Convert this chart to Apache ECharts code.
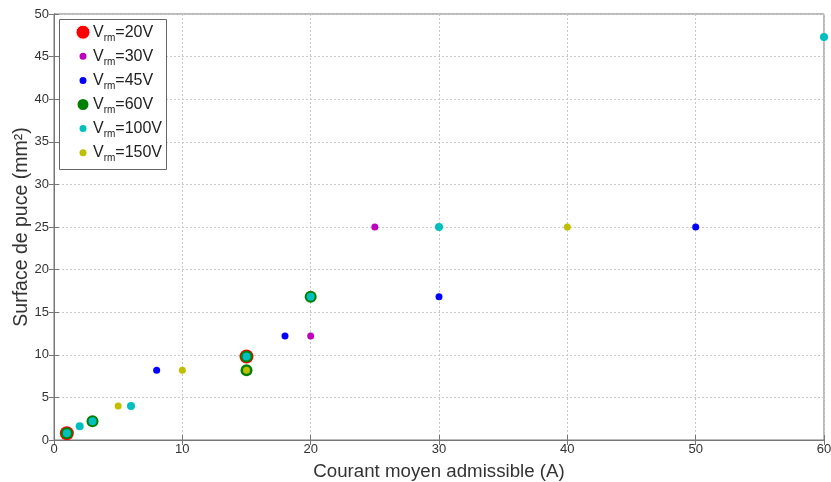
<!DOCTYPE html>
<html><head><meta charset="utf-8">
<script src="https://cdn.jsdelivr.net/npm/echarts@6/dist/echarts.min.js"></script>
<style>html,body{margin:0;padding:0;background:#fff}#c{width:831px;height:482px}</style>
</head><body><div id="c"></div>
<script>
const seriesNames = ['20V', '30V', '45V', '60V', '100V', '150V'];
const seriesColors = ['#ff0000', '#bf00bf', '#0000ff', '#007f00', '#00bfbf', '#bfbf00'];
const v20 = [[1, 0.8], [15, 9.8]];
const v30 = [[20, 12.2], [25, 25]];
const v45 = [[8, 8.2], [18, 12.2], [30, 16.8], [50, 25]];
const v60 = [[1, 0.8], [3, 2.2], [15, 8.2], [15, 9.8], [20, 16.8]];
const v100 = [[1, 0.8], [2, 1.6], [3, 2.2], [6, 4], [15, 9.8], [20, 16.8], [30, 25], [60, 47.3]];
const v150 = [[5, 4], [10, 8.2], [15, 8.2], [40, 25]];
const allData = [v20, v30, v45, v60, v100, v150];
const markerSizes = [14, 7, 7, 12, 8, 7];
// legend icon diameters (icon box is 14px; a white border shrinks the visible disc)
const legendSizes = [13, 7, 7, 11, 7, 7];

const tickStyle = { show: true, inside: true, length: 5, lineStyle: { color: '#777' } };
const lineStyle = { show: true, lineStyle: { color: '#777', width: 1 } };
const labelStyle = { fontFamily: 'Liberation Sans', fontSize: 13, color: '#333' };

const option = {
  animation: false,
  backgroundColor: '#fff',
  grid: { left: 54, right: 7, top: 14, bottom: 42, containLabel: false, outerBoundsMode: 'none', show: true, borderColor: '#777', borderWidth: 1 },
  legend: {
    data: seriesNames.map((n, i) => ({
      name: n,
      icon: 'circle',
      itemStyle: { color: seriesColors[i], borderColor: '#fff', borderWidth: 14 - legendSizes[i] }
    })),
    orient: 'vertical',
    left: 72.5,
    top: 21.2,
    padding: 0,
    itemWidth: 14,
    itemHeight: 14,
    itemGap: 2.1,
    selectedMode: false,
    formatter: name => '{a|V}{b|rm}{a|=' + name + '}',
    textStyle: {
      padding: [0, 0, 0, -2],
      rich: {
        a: { fontFamily: 'Liberation Sans', fontSize: 16, lineHeight: 18, color: '#222' },
        b: { fontFamily: 'Liberation Sans', fontSize: 10, lineHeight: 10, color: '#222', padding: [12, 0, 0, 0] }
      }
    }
  },
  xAxis: [{
    type: 'value', min: 0, max: 60, interval: 10,
    name: 'Courant moyen admissible (A)', nameLocation: 'middle', nameGap: 22, nameMoveOverlap: false,
    nameTextStyle: { fontFamily: 'Liberation Sans', fontSize: 18.7, color: '#333' },
    axisLine: lineStyle, axisTick: tickStyle,
    axisLabel: Object.assign({ margin: 3 }, labelStyle),
    splitLine: { show: true, lineStyle: { color: '#c8c8c8', type: [2, 2] } }
  }, {
    type: 'value', position: 'top', min: 0, max: 60, interval: 10,
    axisLine: lineStyle, axisTick: tickStyle, axisLabel: { show: false }, splitLine: { show: false }
  }],
  yAxis: [{
    type: 'value', min: 0, max: 50, interval: 5,
    name: 'Surface de puce (mm²)', nameLocation: 'middle', nameGap: 22.5, nameMoveOverlap: false,
    nameTextStyle: { fontFamily: 'Liberation Sans', fontSize: 19.5, color: '#333' },
    axisLine: lineStyle, axisTick: tickStyle,
    axisLabel: Object.assign({ margin: 5 }, labelStyle),
    splitLine: { show: true, lineStyle: { color: '#c8c8c8', type: [2, 2] } }
  }, {
    type: 'value', position: 'right', min: 0, max: 50, interval: 5,
    axisLine: lineStyle, axisTick: tickStyle, axisLabel: { show: false }, splitLine: { show: false }
  }],
  graphic: [{
    type: 'rect', left: 59, top: 19, z: 1,
    shape: { width: 107, height: 150 },
    style: { fill: '#fff', stroke: '#666', lineWidth: 1 }
  }],
  series: seriesNames.map((n, i) => ({
    name: n, type: 'scatter', data: allData[i],
    symbol: 'circle', symbolSize: markerSizes[i],
    itemStyle: { color: seriesColors[i], opacity: 1 },
    z: 2 + i, clip: false
  }))
};
echarts.init(document.getElementById('c')).setOption(option);
</script></body></html>
